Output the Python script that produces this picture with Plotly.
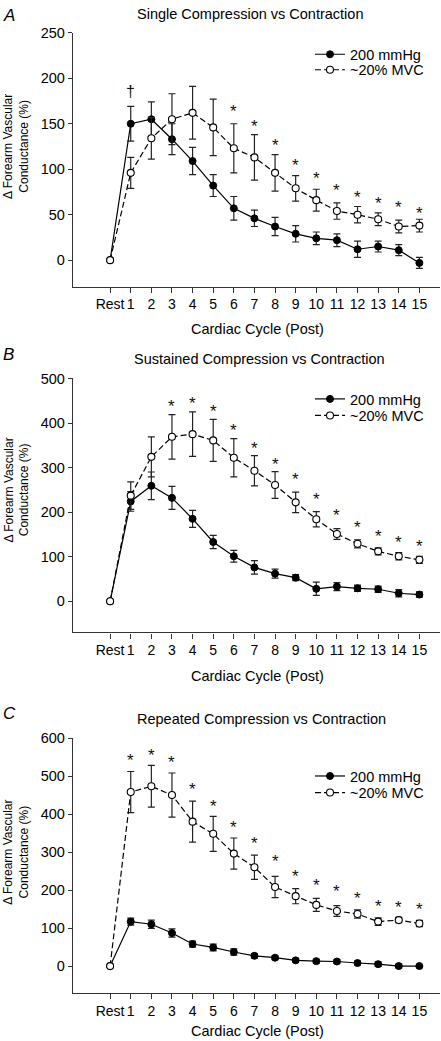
import plotly.graph_objects as go

W, H = 441, 1041
FONT = "Liberation Sans, Arial, sans-serif"

# ---------------- data ----------------
x_labels = ["Rest"] + [str(i) for i in range(1, 16)]
x_vals = list(range(16))

A_filled = [0, 150, 155, 133, 109, 82, 57, 46, 37, 29, 24, 22, 12, 15, 11, -3]
A_filled_err = [0, 19, 19, 17, 15, 12, 13, 9, 10, 9, 7, 7, 9, 6, 6, 6]
A_open = [0, 96, 134, 155, 162, 146, 123, 113, 96, 79, 66, 54, 50, 45, 37, 38]
A_open_err = [0, 17, 23, 28, 29, 31, 27, 25, 20, 14, 12, 9, 9, 7, 7, 7]
A_star_x = [6, 7, 8, 9, 10, 11, 12, 13, 14, 15]
A_star_y = [169, 152, 132, 110, 95, 82, 74, 68, 63, 57]
A_dagger_x = [1]
A_dagger_y = [185]

B_filled = [0, 224, 259, 232, 185, 133, 101, 76, 62, 53, 28, 33, 29, 27, 18, 15]
B_filled_err = [0, 22, 31, 26, 19, 15, 13, 15, 10, 7, 15, 9, 7, 7, 8, 6]
B_open = [0, 237, 324, 369, 375, 361, 322, 293, 261, 222, 184, 151, 129, 112, 101, 93]
B_open_err = [0, 31, 45, 50, 50, 47, 43, 34, 30, 23, 17, 12, 9, 8, 8, 8]
B_star_x = [3, 4, 5, 6, 7, 8, 9, 10, 11, 12, 13, 14, 15]
B_star_y = [449, 455, 436, 394, 355, 318, 285, 239, 203, 177, 157, 143, 134]

C_filled = [0, 117, 110, 87, 58, 49, 37, 27, 22, 15, 13, 12, 8, 5, 0, 0]
C_filled_err = [0, 9, 11, 11, 8, 9, 8, 6, 5, 5, 5, 5, 5, 6, 5, 4]
C_open = [0, 458, 473, 450, 380, 348, 296, 260, 208, 184, 161, 145, 137, 117, 121, 112]
C_open_err = [0, 54, 55, 58, 54, 46, 41, 32, 28, 20, 17, 14, 11, 10, 7, 8]
C_star_x = [1, 2, 3, 4, 5, 6, 7, 8, 9, 10, 11, 12, 13, 14, 15]
C_star_y = [554, 567, 548, 477, 432, 377, 335, 287, 250, 225, 209, 191, 170, 167, 161]

series_names = ["200 mmHg", "~20% MVC"]
panel_titles = ["Single Compression vs Contraction",
                "Sustained Compression vs Contraction",
                "Repeated Compression vs Contraction"]
panel_letters = ["A", "B", "C"]
y_ticks = [[0, 50, 100, 150, 200, 250],
           [0, 100, 200, 300, 400, 500],
           [0, 100, 200, 300, 400, 500, 600]]
y_ranges = [[-29, 250], [-70, 500], [-70, 600]]
x_title = "Cardiac Cycle (Post)"
y_title = "Δ Forearm Vascular<br>Conductance (%)"


def py(px):
    return 1 - px / H


def pxx(px):
    return px / W


# ---------------- layout geometry (pixels) ----------------
x_dom = [pxx(73), pxx(440)]
y_doms_px = [(25, 280.7), (373.3, 629.3), (735.7, 992.3)]
title_px = [(250.5, 6), (259, 354), (261, 717)]
letter_py = [8, 349, 711]
xtitle_py = [323, 673, 1031]
ytitle_py = [139.5, 485.7, 850.7]
legend_py = [(46.7, 62.3), (394, 410.7), (774, 790.7)]

AXC = "#333333"
fig = go.Figure()

panels = [
    (A_filled, A_filled_err, A_open, A_open_err, A_star_x, A_star_y),
    (B_filled, B_filled_err, B_open, B_open_err, B_star_x, B_star_y),
    (C_filled, C_filled_err, C_open, C_open_err, C_star_x, C_star_y),
]

layout = dict(
    width=W, height=H, margin=dict(l=0, r=0, t=0, b=0),
    paper_bgcolor="white", plot_bgcolor="white",
    font=dict(family=FONT, size=14.5, color="black"),
    showlegend=True,
    annotations=[],
)

for i, (f, fe, o, oe, sx, sy) in enumerate(panels):
    k = "" if i == 0 else str(i + 1)
    xa, ya = "x" + k, "y" + k
    leg1 = "legend" + ("" if i == 0 else str(2 * i + 1))
    leg2 = "legend" + str(2 * i + 2)

    fig.add_trace(go.Scatter(
        x=x_vals, y=f, xaxis=xa, yaxis=ya, name=series_names[0],
        mode="lines+markers", legend=leg1, showlegend=True,
        line=dict(color="black", width=1.2),
        marker=dict(symbol="circle", size=7, color="black",
                    line=dict(color="black", width=1)),
        error_y=dict(type="data", array=fe, visible=True, color="#222222",
                     thickness=1.2, width=3.5),
    ))
    fig.add_trace(go.Scatter(
        x=x_vals, y=o, xaxis=xa, yaxis=ya, name=series_names[1],
        mode="lines+markers", legend=leg2, showlegend=True,
        line=dict(color="black", width=1.2, dash="6px,3px"),
        marker=dict(symbol="circle", size=7, color="white",
                    line=dict(color="black", width=1.1)),
        error_y=dict(type="data", array=oe, visible=True, color="#222222",
                     thickness=1.2, width=3.5),
    ))

    top, bot = y_doms_px[i]
    layout["xaxis" + k] = dict(
        domain=x_dom, anchor=ya, range=[-1.8, 16.0],
        tickmode="array", tickvals=x_vals, ticktext=x_labels, tickangle=0,
        showline=True, linecolor=AXC, linewidth=1.3,
        ticks="outside", ticklen=5, tickcolor=AXC, tickwidth=1.2,
        showgrid=False, zeroline=False, tickfont=dict(size=14, color="black"),
    )
    layout["yaxis" + k] = dict(
        domain=[py(bot), py(top)], anchor=xa, range=y_ranges[i],
        tickmode="array", tickvals=y_ticks[i],
        showline=True, linecolor=AXC, linewidth=1.3,
        ticks="outside", ticklen=4, tickcolor=AXC, tickwidth=1.2,
        showgrid=False, zeroline=False, tickfont=dict(size=14.5, color="black"),
    )

    for leg, ly in ((leg1, legend_py[i][0]), (leg2, legend_py[i][1])):
        layout[leg] = dict(
            x=pxx(310), xanchor="left", y=py(ly), yanchor="middle",
            bgcolor="rgba(0,0,0,0)", borderwidth=0, tracegroupgap=0,
            font=dict(size=14.5, family=FONT, color="black"), visible=True,
        )

    anns = layout["annotations"]
    anns.append(dict(text=panel_titles[i], xref="paper", yref="paper",
                     x=pxx(title_px[i][0]), y=py(title_px[i][1]),
                     xanchor="center", yanchor="middle", showarrow=False,
                     font=dict(size=14.5, color="black")))
    anns.append(dict(text="<i>" + panel_letters[i] + "</i>", xref="paper", yref="paper",
                     x=pxx(1), y=py(letter_py[i]), xanchor="left", yanchor="middle",
                     showarrow=False, font=dict(size=17, color="black")))
    anns.append(dict(text=x_title, xref="paper", yref="paper",
                     x=pxx(257.5), y=py(xtitle_py[i]), xanchor="center", yanchor="middle",
                     showarrow=False, font=dict(size=14.5, color="black")))
    anns.append(dict(text=y_title, xref="paper", yref="paper",
                     x=pxx(16.5), y=py(ytitle_py[i]), xanchor="center", yanchor="middle",
                     textangle=-90, showarrow=False, font=dict(size=12, color="black")))
    for xs, ys in zip(sx, sy):
        anns.append(dict(text="*", xref=xa, yref=ya, x=xs, y=ys,
                         xanchor="center", yanchor="middle", yshift=-5,
                         showarrow=False, font=dict(size=17, color="#111111")))

for xs, ys in zip(A_dagger_x, A_dagger_y):
    layout["annotations"].append(dict(text="†", xref="x", yref="y", x=xs, y=ys,
                                      xanchor="center", yanchor="middle",
                                      showarrow=False, font=dict(size=16, color="#111111")))

fig.update_layout(**layout)
fig.write_html("out.html",
               config={"displayModeBar": False},
               post_script="document.body.style.margin='0px';document.body.style.padding='0px';")
